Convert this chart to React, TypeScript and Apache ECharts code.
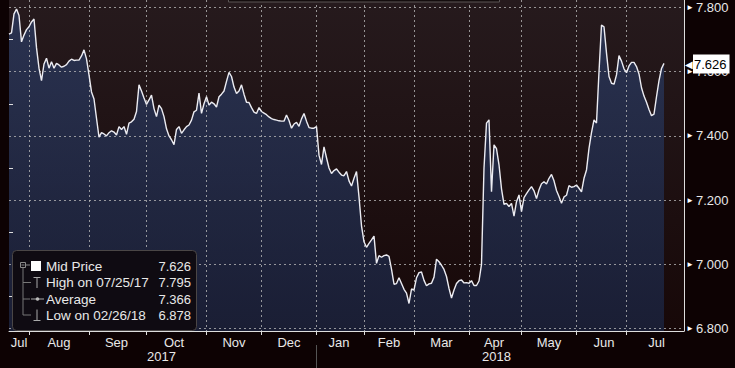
import React, { useEffect, useRef } from "react";
import * as echarts from "echarts";

// Mid price, one value per trading slot (Jul 2017 -> Jul 2018)
const prices: number[] = [
  7.717, 7.721, 7.780, 7.795, 7.775, 7.693, 7.714, 7.731, 7.740, 7.755,
  7.764, 7.675, 7.611, 7.572, 7.624, 7.642, 7.611, 7.631, 7.611, 7.626,
  7.621, 7.614, 7.617, 7.622, 7.633, 7.639, 7.635, 7.636, 7.636, 7.649,
  7.668, 7.640, 7.590, 7.537, 7.515, 7.455, 7.396, 7.410, 7.406, 7.400,
  7.410, 7.416, 7.412, 7.403, 7.429, 7.420, 7.429, 7.405, 7.440, 7.444,
  7.452, 7.476, 7.559, 7.540, 7.518, 7.498, 7.512, 7.527, 7.485, 7.460,
  7.496, 7.485, 7.460, 7.422, 7.400, 7.388, 7.373, 7.420, 7.429, 7.408,
  7.419, 7.429, 7.434, 7.449, 7.475, 7.480, 7.533, 7.470, 7.500, 7.522,
  7.496, 7.505, 7.500, 7.490, 7.522, 7.530, 7.540, 7.570, 7.598, 7.585,
  7.552, 7.532, 7.540, 7.559, 7.530, 7.505, 7.504, 7.488, 7.474, 7.470,
  7.488, 7.476, 7.471, 7.466, 7.459, 7.454, 7.451, 7.449, 7.447, 7.446,
  7.446, 7.465, 7.448, 7.424, 7.437, 7.442, 7.430, 7.453, 7.470, 7.446,
  7.426, 7.424, 7.424, 7.429, 7.340, 7.311, 7.366, 7.332, 7.300, 7.283,
  7.292, 7.297, 7.287, 7.278, 7.276, 7.289, 7.260, 7.244, 7.268, 7.289,
  7.210, 7.120, 7.070, 7.053, 7.065, 7.076, 7.088, 7.003, 7.027, 7.022,
  7.027, 7.029, 7.025, 6.985, 6.938, 6.940, 6.958, 6.940, 6.922, 6.910,
  6.878, 6.923, 6.920, 6.958, 6.974, 6.976, 6.950, 6.933, 6.939, 6.941,
  6.960, 7.016, 7.008, 6.997, 6.984, 6.962, 6.925, 6.895, 6.920, 6.940,
  6.949, 6.951, 6.942, 6.943, 6.941, 6.949, 6.934, 6.934, 6.948, 7.000,
  7.300, 7.440, 7.450, 7.226, 7.372, 7.360, 7.310, 7.235, 7.187, 7.190,
  7.180, 7.190, 7.150, 7.195, 7.216, 7.164, 7.208, 7.220, 7.232, 7.242,
  7.229, 7.205, 7.232, 7.251, 7.257, 7.250, 7.268, 7.280, 7.260, 7.230,
  7.211, 7.190, 7.210, 7.215, 7.245, 7.240, 7.242, 7.247, 7.237, 7.226,
  7.268, 7.294, 7.361, 7.410, 7.450, 7.440, 7.600, 7.745, 7.740, 7.658,
  7.585, 7.564, 7.561, 7.590, 7.650, 7.633, 7.609, 7.597, 7.618, 7.629,
  7.629, 7.616, 7.593, 7.550, 7.524, 7.505, 7.482, 7.463, 7.468, 7.522,
  7.572, 7.610, 7.626,
];

// empty slots between the last price and the right axis
const padSlots = 8;

// month labels (centred in each month) and month boundaries (ticks / grid lines)
const monthNames = ["Jul", "Aug", "Sep", "Oct", "Nov", "Dec", "Jan", "Feb", "Mar", "Apr", "May", "Jun", "Jul"];
const monthLabelIdx = [4, 20, 43, 66, 90, 112, 132, 152, 173, 194, 216, 238, 259];
const monthStartIdx = [8, 32, 55, 79, 101, 123, 142, 162, 184, 205, 227, 247];

const yearNames = ["2017", "2018"];
const yearLabelIdx = [61, 195];
const yearSepIdx = 123;

// y axis
const yMin = 6.8;
const yMax = 7.8;
const yInterval = 0.2;

// legend rows as printed in the chart
const legendLabels = ["Mid Price", "High on 07/25/17", "Average", "Low on 02/26/18"];
const legendValues = ["7.626", "7.795", "7.366", "6.878"];

const FONT = '"Liberation Sans", Arial, sans-serif';
const TEXT = "#e8e8e8";
const DASH = "rgba(190,190,190,0.75)";

export default function App() {
  const ref = useRef<HTMLDivElement>(null);

  useEffect(() => {
    if (!ref.current) return;
    const chart = echarts.init(ref.current, null, { renderer: "svg" });

    const categories = Array.from({ length: prices.length + padSlots }, (_, i) => String(i));
    const lastPrice = prices[prices.length - 1];

    // plot area spans a bit beyond 6.8..7.8 (top at y=0, bottom at axis)
    const gridTop = 0;
    const gridBottom = 37;
    const plotH = 368 - gridTop - gridBottom;
    const pxPerUnit = 321;
    const dataMax = yMax + 7.5 / pxPerUnit;
    const dataMin = dataMax - plotH / pxPerUnit;

    const rowY = [266.5, 282.5, 299, 315];
    const legendGraphics: any[] = [
      {
        type: "rect",
        z: 100,
        shape: { x: 12.5, y: 250.5, width: 184, height: 80, r: 4 },
        style: { fill: "#0f0b12", stroke: "#4a4646", lineWidth: 1 },
      },
      // tree connector
      { type: "rect", z: 101, shape: { x: 20.5, y: 262.5, width: 5, height: 5 }, style: { fill: "none", stroke: "#8a8a8a", lineWidth: 1 } },
      { type: "line", z: 101, shape: { x1: 21.5, y1: 265, x2: 24.5, y2: 265 }, style: { stroke: "#8a8a8a", lineWidth: 1 } },
      { type: "line", z: 101, shape: { x1: 25.5, y1: 265, x2: 30, y2: 265 }, style: { stroke: "#8a8a8a", lineWidth: 1 } },
      { type: "line", z: 101, shape: { x1: 23, y1: 268, x2: 23, y2: 315 }, style: { stroke: "#777", lineWidth: 1 } },
      { type: "line", z: 101, shape: { x1: 23, y1: 282.5, x2: 31, y2: 282.5 }, style: { stroke: "#777", lineWidth: 1 } },
      { type: "line", z: 101, shape: { x1: 23, y1: 299, x2: 30, y2: 299 }, style: { stroke: "#777", lineWidth: 1 } },
      { type: "line", z: 101, shape: { x1: 23, y1: 315, x2: 31, y2: 315 }, style: { stroke: "#777", lineWidth: 1 } },
      // icons
      { type: "rect", z: 101, shape: { x: 31, y: 261, width: 10, height: 10 }, style: { fill: "#ffffff" } },
      { type: "line", z: 101, shape: { x1: 33.5, y1: 277.5, x2: 40.5, y2: 277.5 }, style: { stroke: "#aaa", lineWidth: 1 } },
      { type: "line", z: 101, shape: { x1: 37, y1: 277.5, x2: 37, y2: 288 }, style: { stroke: "#aaa", lineWidth: 1 } },
      { type: "line", z: 101, shape: { x1: 31, y1: 299, x2: 44, y2: 299 }, style: { stroke: "#aaa", lineWidth: 1 } },
      { type: "circle", z: 101, shape: { cx: 37.5, cy: 299, r: 1.8 }, style: { fill: "#bbb" } },
      { type: "line", z: 101, shape: { x1: 37, y1: 309.5, x2: 37, y2: 320 }, style: { stroke: "#aaa", lineWidth: 1 } },
      { type: "line", z: 101, shape: { x1: 33.5, y1: 320.5, x2: 40.5, y2: 320.5 }, style: { stroke: "#aaa", lineWidth: 1 } },
    ];
    legendLabels.forEach((label, i) => {
      legendGraphics.push({
        type: "text",
        z: 101,
        x: 46,
        y: rowY[i],
        style: { text: label, fill: TEXT, font: `13.5px ${FONT}`, align: "left", verticalAlign: "middle" },
      });
      legendGraphics.push({
        type: "text",
        z: 101,
        x: 191,
        y: rowY[i],
        style: { text: legendValues[i], fill: TEXT, font: `13px ${FONT}`, align: "right", verticalAlign: "middle" },
      });
    });
    // cut-off box at the very top of the picture
    legendGraphics.push({
      type: "rect",
      z: 100,
      shape: { x: 228.5, y: -6, width: 271, height: 8 },
      style: { fill: "#140c0d", stroke: "#5a5555", lineWidth: 1 },
    });

    const option: any = {
      animation: false,
      backgroundColor: "#0d0203",
      grid: [
        {
          left: 9,
          right: 51,
          top: gridTop,
          bottom: gridBottom,
          show: true,
          borderWidth: 0,
          backgroundColor: new echarts.graphic.LinearGradient(0, 0, 0, 1, [
            { offset: 0, color: "#261a1d" },
            { offset: 1, color: "#170808" },
          ]),
        },
        { left: 9, right: 51, top: 7.5, bottom: 39.5, show: false },
      ],
      xAxis: [
        {
          gridIndex: 0,
          type: "category",
          data: categories,
          boundaryGap: false,
          z: 3,
          axisLine: { show: true, lineStyle: { color: "#dddddd", width: 1 } },
          axisTick: {
            show: true,
            interval: (idx: number) => monthStartIdx.includes(idx),
            length: 4,
            lineStyle: { color: "#dddddd" },
          },
          axisLabel: {
            interval: (idx: number) => monthLabelIdx.includes(idx),
            formatter: (_v: string, idx: number) => {
              const k = monthLabelIdx.indexOf(idx);
              return k >= 0 ? monthNames[k] : "";
            },
            color: TEXT,
            fontSize: 13,
            fontFamily: FONT,
            margin: 5,
          },
          splitLine: {
            show: true,
            interval: (idx: number) => monthStartIdx.includes(idx),
            lineStyle: { color: DASH, type: [2, 3], width: 1 },
          },
        },
        {
          gridIndex: 0,
          type: "category",
          data: categories,
          boundaryGap: false,
          position: "bottom",
          offset: 14,
          axisLine: { show: false },
          axisTick: {
            show: true,
            interval: (idx: number) => idx === yearSepIdx,
            length: 24,
            lineStyle: { color: "#555" },
          },
          axisLabel: {
            interval: (idx: number) => yearLabelIdx.includes(idx),
            formatter: (_v: string, idx: number) => {
              const k = yearLabelIdx.indexOf(idx);
              return k >= 0 ? yearNames[k] : "";
            },
            color: TEXT,
            fontSize: 13,
            fontFamily: FONT,
            margin: 5,
          },
          splitLine: { show: false },
        },
        { gridIndex: 1, type: "value", show: false, min: 0, max: 1 },
      ],
      yAxis: [
        {
          gridIndex: 0,
          type: "value",
          position: "right",
          min: dataMin,
          max: dataMax,
          z: 3,
          axisLine: { show: true, lineStyle: { color: "#dddddd", width: 1 } },
          axisTick: { show: false },
          axisLabel: { show: false },
          splitLine: { show: false },
        },
        {
          gridIndex: 1,
          type: "value",
          position: "right",
          min: yMin,
          max: yMax,
          interval: yInterval,
          z: 3,
          axisLine: { show: false },
          axisTick: { show: false },
          minorTick: { show: true, splitNumber: 2, length: 4, lineStyle: { color: "#dddddd" } },
          axisLabel: {
            margin: 2,
            formatter: (v: number) => `{a|►}{t|${v.toFixed(3)}}`,
            rich: {
              a: { fontSize: 8, color: "#ffffff", padding: [0, 2, 0, 0] },
              t: { fontSize: 13, color: TEXT, fontFamily: FONT },
            },
          },
          splitLine: { show: true, lineStyle: { color: DASH, type: [2, 3], width: 1 } },
        },
      ],
      series: [
        {
          type: "line",
          xAxisIndex: 0,
          yAxisIndex: 0,
          data: prices,
          symbol: "none",
          z: 1,
          lineStyle: { width: 0 },
          areaStyle: {
            origin: "start",
            color: new echarts.graphic.LinearGradient(0, 0, 0, 1, [
              { offset: 0, color: "#2c3d66" },
              { offset: 1, color: "#1b2747" },
            ]),
          },
        },
        {
          type: "line",
          xAxisIndex: 0,
          yAxisIndex: 0,
          data: prices,
          symbol: "none",
          z: 4,
          lineStyle: { color: "#ececf2", width: 1.4 },
          markLine: {
            silent: true,
            symbol: ["none", "none"],
            z: 10,
            lineStyle: { color: "rgba(0,0,0,0)", width: 1, type: "solid" },
            data: [{ yAxis: lastPrice }],
            label: {
              show: true,
              position: "end",
              distance: 1,
              offset: [0, 2],
              formatter: () => `{tri|◀}{box|${lastPrice.toFixed(3)}}`,
              rich: {
                tri: { color: "#ffffff", fontSize: 10, padding: [0, 0, 0, 0] },
                box: {
                  backgroundColor: "#ffffff",
                  color: "#000000",
                  fontSize: 13,
                  fontFamily: FONT,
                  padding: [3, 3, 3, 1],
                },
              },
            },
          },
        },
      ],
      graphic: legendGraphics,
    };

    chart.setOption(option);
    return () => chart.dispose();
  }, []);

  return (
    <div
      ref={ref}
      style={{ position: "fixed", left: 0, top: 0, width: 735, height: 368, background: "#0d0203" }}
    />
  );
}
